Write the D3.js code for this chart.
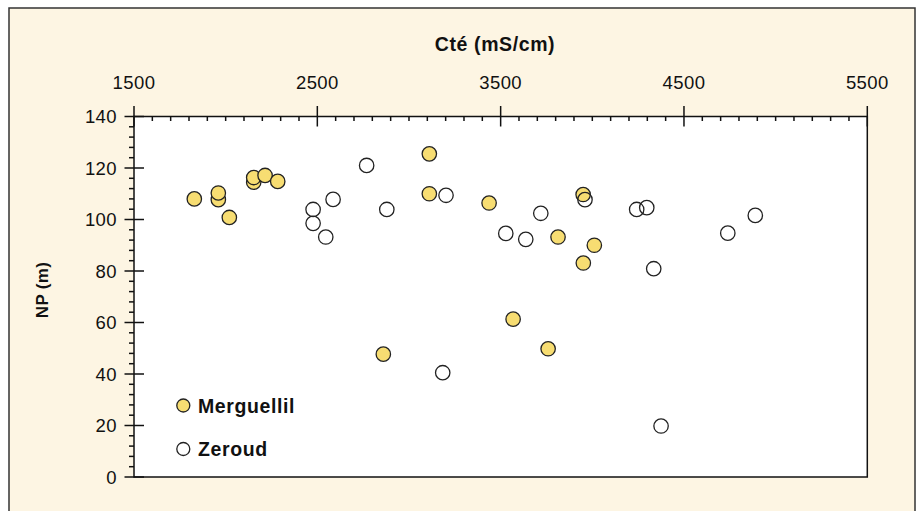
<!DOCTYPE html>
<html><head><meta charset="utf-8">
<script src="https://cdn.jsdelivr.net/npm/d3@7"></script>
<style>
html,body{margin:0;padding:0;background:#fff;}
svg{display:block;}
text{font-family:"Liberation Sans",Arial,Helvetica,sans-serif;fill:#111;}
</style></head>
<body>
<svg id="c" width="919" height="511"></svg>
<script>
// ---- data ----
const merguellilX = [1829,1960,1960,2020,2153,2153,2215,2284,3111,3111,3437,3950,3813,3951,4011,2860,3568,3759];
const merguellilY = [108,107.7,110.3,100.8,114.5,116.3,117.1,114.8,125.5,110,106.4,109.7,93.2,83.1,90,47.7,61.3,49.8];
const zeroudX = [2769,2586,2477,2477,2546,2879,3202,3719,3528,3637,3960,4242,4297,4739,4889,4335,3184,4375];
const zeroudY = [121,107.8,103.9,98.5,93.2,103.9,109.4,102.4,94.6,92.3,107.7,103.9,104.6,94.7,101.6,80.9,40.5,19.8];
const xTickLabels = [1500,2500,3500,4500,5500];
const yTickLabels = [0,20,40,60,80,100,120,140];
const xMinorStep = 100;
const yMinorStep = 4;
const seriesNames = ["Merguellil","Zeroud"];
const xTitle = "Cté (mS/cm)";
const yTitle = "NP (m)";

// ---- layout ----
const L = 134, R = 867.3, T = 116.5, B = 477;
const svg = d3.select("#c");
const x = d3.scaleLinear().domain([1500,5500]).range([L,R]);
const y = d3.scaleLinear().domain([0,140]).range([B,T]);

// panel
svg.append("rect").attr("x",9).attr("y",8).attr("width",906).attr("height",520)
  .attr("fill","#fdf5e3").attr("stroke","#333").attr("stroke-width",1.5);
// plot area
svg.append("rect").attr("x",L).attr("y",T).attr("width",R-L).attr("height",B-T)
  .attr("fill","#fff").attr("stroke","#111").attr("stroke-width",1.5);

const ax = svg.append("g").attr("stroke","#111").attr("stroke-width",1.5);
// x minor ticks (inside, downward)
const xMinor = d3.range(1500,5500+1,xMinorStep).filter(v=>!xTickLabels.includes(v));
ax.selectAll(".xm").data(xMinor).join("line")
  .attr("x1",d=>x(d)).attr("x2",d=>x(d)).attr("y1",T).attr("y2",T+4.5);
ax.selectAll(".xM").data(xTickLabels).join("line")
  .attr("x1",d=>x(d)).attr("x2",d=>x(d)).attr("y1",T-10.5).attr("y2",T+10);
// y minor ticks (outside, leftward)
const yMinor = d3.range(0,140+0.1,yMinorStep).filter(v=>!yTickLabels.includes(v));
ax.selectAll(".ym").data(yMinor).join("line")
  .attr("x1",L-5).attr("x2",L).attr("y1",d=>y(d)).attr("y2",d=>y(d));
ax.selectAll(".yM").data(yTickLabels).join("line")
  .attr("x1",L-9.5).attr("x2",L+10).attr("y1",d=>y(d)).attr("y2",d=>y(d));

// tick labels
svg.selectAll(".xl").data(xTickLabels).join("text")
  .attr("x",d=>x(d)).attr("y",88.5).attr("text-anchor","middle")
  .attr("font-size",18.5).attr("letter-spacing",0.4).text(d=>d);
svg.selectAll(".yl").data(yTickLabels).join("text")
  .attr("x",L-17).attr("y",d=>y(d)+6.7).attr("text-anchor","end")
  .attr("font-size",18.5).attr("letter-spacing",0.4).text(d=>d);

// titles
svg.append("text").attr("x",495).attr("y",51).attr("text-anchor","middle")
  .attr("font-size",19.5).attr("font-weight","bold").attr("letter-spacing",0.6).text(xTitle);
svg.append("text").attr("transform","translate(47.5,290) rotate(-90)").attr("text-anchor","middle")
  .attr("font-size",17).attr("font-weight","bold").attr("letter-spacing",0.3).text(yTitle);

// points
const r = 7.2;
const mData = merguellilX.map((v,i)=>({x:v,y:merguellilY[i]}));
const zData = zeroudX.map((v,i)=>({x:v,y:zeroudY[i]}));
svg.append("g").selectAll("circle").data(mData).join("circle")
  .attr("cx",d=>x(d.x)).attr("cy",d=>y(d.y)).attr("r",r)
  .attr("fill","#f7dd72").attr("stroke","#222").attr("stroke-width",1.3);
svg.append("g").selectAll("circle").data(zData).join("circle")
  .attr("cx",d=>x(d.x)).attr("cy",d=>y(d.y)).attr("r",r)
  .attr("fill","none").attr("stroke","#222").attr("stroke-width",1.3);

// legend
const leg = [{n:seriesNames[0],fill:"#f7dd72",cy:405.5,ty:412.5},{n:seriesNames[1],fill:"#fff",cy:449,ty:456.2}];
const lg = svg.append("g");
lg.selectAll("circle").data(leg).join("circle").attr("cx",183.3).attr("cy",d=>d.cy).attr("r",6.5)
  .attr("fill",d=>d.fill).attr("stroke","#222").attr("stroke-width",1.3);
lg.selectAll("text").data(leg).join("text").attr("x",198).attr("y",d=>d.ty)
  .attr("font-size",19.5).attr("font-weight","bold").attr("letter-spacing",0.6).text(d=>d.n);
</script>
</body></html>
